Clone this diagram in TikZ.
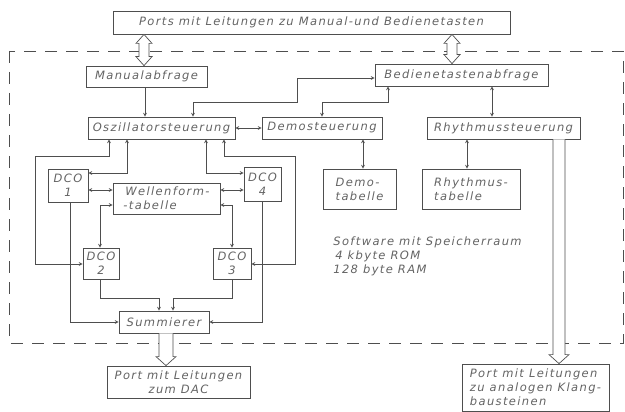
\documentclass[tikz,border=0pt]{standalone}
\usepackage{fontspec}
\newfontfamily\dinfont{DejaVu Sans}[LetterSpace=12]
\usetikzlibrary{calc}
\definecolor{inkgray}{HTML}{646464}
\definecolor{linegray}{HTML}{4E4E4E}

\begin{document}
\begin{tikzpicture}
[x=1pt,y=-1pt,line width=0.7pt,%
  every node/.style={font=\dinfont\itshape\fontsize{11.5}{14}\selectfont,text=inkgray},%
  blk/.style={draw=linegray,line width=0.8pt,inner sep=0pt,minimum height=22pt},%
  con/.style={<->,>=stealth,draw=linegray},%
  flow/.style={->,>=stealth,draw=linegray},%
  bus/.style={draw=linegray,fill=white,line width=0.7pt,line join=miter}]
\useasboundingbox[fill=white] (0,0) rectangle (625,412);
% software area
\draw[linegray,dash pattern=on 12pt off 9pt] (9,51) rectangle (623,343);
% ports
\node[blk,minimum width=397pt,minimum height=23pt] (ports) at (311.5,22.5) {Ports mit Leitungen zu Manual-und Bedienetasten};
\node[blk,minimum width=143pt,minimum height=32pt,align=center] (dac) at (178.5,382) {Port mit Leitungen\\zum DAC};
\node[blk,minimum width=147pt,minimum height=47pt,align=left] (klang) at (535.5,387.5) {Port mit Leitungen\\zu analogen Klang-\\bausteinen};
% control blocks
\node[blk,minimum width=121pt,minimum height=21pt] (manual) at (146.5,76.5) {Manualabfrage};
\node[blk,minimum width=173pt] (bedien) at (461.5,75) {Bedienetastenabfrage};
\node[blk,minimum width=147pt] (osz) at (161.5,128) {Oszillatorsteuerung};
\node[blk,minimum width=120pt] (demo) at (322,128) {Demosteuerung};
\node[blk,minimum width=153pt] (rhythm) at (503.5,128) {Rhythmussteuerung};
\node[blk,minimum width=73pt,minimum height=40pt,align=left] (demotab) at (359.5,189) {Demo-\\tabelle};
\node[blk,minimum width=98pt,minimum height=40pt,align=left] (rhytab) at (471,189) {Rhythmus-\\tabelle};
% oscillators
\node[blk,minimum width=40pt,minimum height=33pt,align=center] (dco1) at (68,185.5) {DCO\\1};
\node[blk,minimum width=37pt,minimum height=34pt,align=center] (dco4) at (262.5,184) {DCO\\4};
\node[blk,minimum width=107pt,minimum height=31pt,align=left] (wellen) at (166.5,198.5) {\,Wellenform-\\-tabelle};
\node[blk,minimum width=36pt,minimum height=31pt,align=center] (dco2) at (101,263.5) {DCO\\2};
\node[blk,minimum width=38pt,minimum height=31pt,align=center] (dco3) at (232,263.5) {DCO\\3};
\node[blk,minimum width=90pt] (summ) at (164,322) {Summierer};
\node[anchor=north west,align=left,inner sep=0pt] (mem) at (333,236) {Software mit Speicherraum\\\,4 kbyte ROM\\128 byte RAM};
% buses (hollow arrows)
\coordinate (b1) at (ports.south -| 144,0);
\coordinate (b2) at (manual.north -| 144,0);
\draw[bus] (b1) -- ++(8,9) -- ++(-3,0) -- ($(b2)+(5,-9)$) -- ++(3,0) -- (b2)
  -- ++(-8,-9) -- ++(3,0) -- ($(b1)+(-5,9)$) -- ++(-3,0) -- cycle;
\coordinate (b3) at (ports.south -| 452,0);
\coordinate (b4) at (bedien.north -| 452,0);
\draw[bus] (b3) -- ++(8,9) -- ++(-3,0) -- ($(b4)+(5,-9)$) -- ++(3,0) -- (b4)
  -- ++(-8,-9) -- ++(3,0) -- ($(b3)+(-5,9)$) -- ++(-3,0) -- cycle;
\coordinate (b5) at (summ.south -| 166,0);
\coordinate (b6) at (dac.north -| 166,0);
\draw[bus] ($(b5)+(-7,0)$) -- ($(b6)+(-7,-9)$) -- ++(-3,0) -- (b6) -- ++(10,-9)
  -- ++(-3,0) -- ($(b5)+(7,0)$);
\coordinate (b7) at (rhythm.south -| 559,0);
\coordinate (b8) at (klang.north -| 559,0);
\draw[bus] ($(b7)+(-6,0)$) -- ($(b8)+(-6,-9)$) -- ++(-4,0) -- (b8) -- ++(10,-9)
  -- ++(-4,0) -- ($(b7)+(6,0)$);
% control lines
\draw[flow] (manual.south -| 145,0) -- (osz.north -| 145,0);
\draw[con] (osz.north -| 193,0) -- (193,102) -- (297,102) -- (297,78) -- (bedien.west |- 0,78);
\draw[con] (bedien.south -| 388,0) -- (388,102) -- (322,102) -- (demo.north -| 322,0);
\draw[con] (bedien.south -| 492,0) -- (rhythm.north -| 492,0);
\draw[con] (demo.west) -- (osz.east);
\draw[con] (demo.south -| 363,0) -- (demotab.north -| 363,0);
\draw[con] (rhythm.south -| 467,0) -- (rhytab.north -| 467,0);
\draw[con] (osz.south -| 109,0) -- (109,156) -- (35,156) -- (35,264) -- (dco2.west |- 0,264);
\draw[con] (osz.south -| 127,0) |- (dco1.east |- 0,173);
\draw[con] (osz.south -| 206,0) |- (dco4.west |- 0,173);
\draw[con] (osz.south -| 224,0) -- (224,156) -- (295,156) -- (295,264) -- (dco3.east |- 0,264);
\draw[con] (dco1.east |- 0,190) -- (wellen.west |- 0,190);
\draw[con] (dco4.west |- 0,190) -- (wellen.east |- 0,190);
\draw[con] (wellen.west |- 0,205) -| (dco2.north -| 100,0);
\draw[con] (wellen.east |- 0,205) -| (dco3.north);
\draw[flow] (dco1.south -| 70,0) |- (summ.west);
\draw[flow] (dco4.south) |- (summ.east);
\draw[flow] (dco2.south -| 100,0) -- (100,298) -| (summ.north -| 159,0);
\draw[flow] (dco3.south) -- (232,298) -| (summ.north -| 173,0);
\end{tikzpicture}
\end{document}
